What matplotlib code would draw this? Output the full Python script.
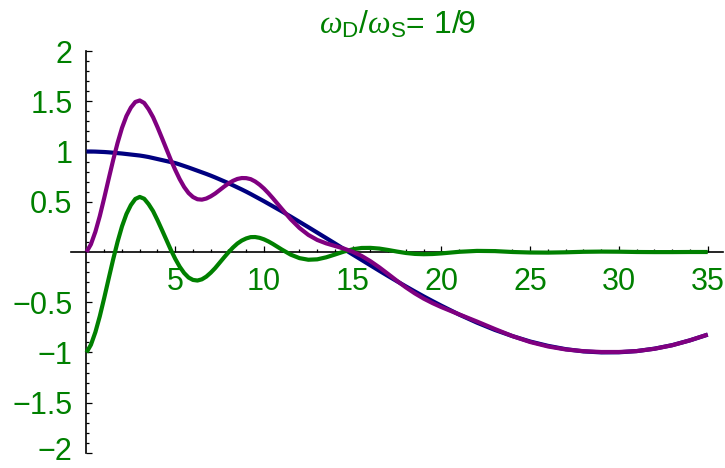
import matplotlib
matplotlib.use("Agg")
import matplotlib.pyplot as plt

plt.rcParams['font.family'] = ['Liberation Sans', 'DejaVu Sans']
plt.rcParams['mathtext.fontset'] = 'custom'
plt.rcParams['mathtext.rm'] = 'Liberation Sans'
plt.rcParams['mathtext.it'] = 'Liberation Serif:italic'

# werte (0..10.5 in viertel-schritten, dann halbe, dann ganze)
t = [0, 0.25, 0.5, 0.75, 1, 1.25, 1.5, 1.75, 2, 2.25, 2.5, 2.75, 3, 3.25, 3.5, 3.75,
     4, 4.25, 4.5, 4.75, 5, 5.25, 5.5, 5.75, 6, 6.25, 6.5, 6.75, 7, 7.25, 7.5, 7.75,
     8, 8.25, 8.5, 8.75, 9, 9.25, 9.5, 9.75, 10, 10.25, 10.5,
     11, 11.5, 12, 12.5, 13, 13.5, 14, 14.5, 15, 15.5, 16, 16.5, 17, 17.5,
     18, 18.5, 19, 19.5, 20, 21, 22, 23, 24, 25, 26, 27, 28, 29, 30, 31, 32, 33, 34, 35]

blau = [1.0, 1.0, 0.999, 0.997, 0.995, 0.992, 0.988, 0.984, 0.98, 0.975, 0.97, 0.965,
        0.96, 0.953, 0.945, 0.935, 0.925, 0.915, 0.905, 0.895, 0.885, 0.871, 0.856, 0.841,
        0.825, 0.809, 0.793, 0.777, 0.76, 0.742, 0.723, 0.704, 0.685, 0.664, 0.643, 0.622,
        0.60, 0.577, 0.553, 0.529, 0.505, 0.48, 0.455,
        0.405, 0.353, 0.30, 0.247, 0.193, 0.139, 0.085, 0.03, -0.025, -0.079, -0.133,
        -0.187, -0.24, -0.292, -0.343, -0.393, -0.442, -0.489, -0.535, -0.623, -0.703,
        -0.775, -0.837, -0.891, -0.934, -0.967, -0.989, -0.999, -0.998, -0.986, -0.962,
        -0.927, -0.879, -0.822]

gruen = [-1.0, -0.923, -0.798, -0.639, -0.456, -0.264, -0.075, 0.101, 0.255, 0.378,
         0.467, 0.528, 0.548, 0.53, 0.476, 0.407, 0.317, 0.220, 0.121, 0.022, -0.068,
         -0.146, -0.209, -0.254, -0.278, -0.284, -0.272, -0.245, -0.206, -0.160, -0.107,
         -0.054, -0.003, 0.044, 0.084, 0.114, 0.135, 0.148, 0.149, 0.141, 0.126, 0.105, 0.080,
         0.025, -0.026, -0.061, -0.077, -0.073, -0.053, -0.025, 0.004, 0.027, 0.040, 0.041,
         0.034, 0.020, 0.004, -0.010, -0.019, -0.022, -0.020, -0.014, 0.002, 0.011, 0.009,
         0.0, -0.005, -0.006, -0.003, 0.002, 0.004, 0.003, 0.0, -0.001, -0.001, 0.0, 0.0]

lila = [0.0, 0.077, 0.201, 0.358, 0.539, 0.728, 0.913, 1.085, 1.235, 1.353, 1.437, 1.493,
        1.508, 1.483, 1.421, 1.342, 1.242, 1.135, 1.026, 0.917, 0.817, 0.725, 0.647, 0.587,
        0.547, 0.525, 0.521, 0.532, 0.554, 0.582, 0.616, 0.650, 0.682, 0.708, 0.727, 0.736,
        0.735, 0.725, 0.702, 0.670, 0.631, 0.585, 0.535,
        0.430, 0.327, 0.239, 0.170, 0.120, 0.086, 0.060, 0.034, 0.002, -0.039, -0.092,
        -0.153, -0.220, -0.288, -0.353, -0.412, -0.464, -0.509, -0.549, -0.621, -0.692,
        -0.766, -0.837, -0.896, -0.940, -0.970, -0.987, -0.995, -0.995, -0.986, -0.963,
        -0.928, -0.879, -0.822]

x_major = [5, 10, 15, 20, 25, 30, 35]
x_labels = ['5', '10', '15', '20', '25', '30', '35']
y_major = [-2, -1.5, -1, -0.5, 0.5, 1, 1.5, 2]
y_labels = ['\u22122', '\u22121.5', '\u22121', '\u22120.5', '0.5', '1', '1.5', '2']

gruen_farbe = '#008000'

fig = plt.figure(figsize=(7.25, 4.68), dpi=100)
ax = fig.add_axes([71/725, 10/468, 652/725, 412/468])

lw = 3.0
ax.plot(t, blau, color='#000080', lw=lw, solid_capstyle='butt', solid_joinstyle='round', clip_on=False)
ax.plot(t, gruen, color=gruen_farbe, lw=lw, solid_capstyle='butt', solid_joinstyle='round', clip_on=False)
ax.plot(t, lila, color='#800080', lw=lw, solid_capstyle='butt', solid_joinstyle='round', clip_on=False)

ax.set_xlim(-0.873, 35.86)
ax.set_ylim(-2.05, 2.05)

for s in ['top', 'right']:
    ax.spines[s].set_visible(False)
ax.spines['left'].set_position(('data', 0))
ax.spines['bottom'].set_position(('data', 0))
ax.spines['left'].set_bounds(-2, 2)
ax.spines['left'].set_linewidth(1.2)
ax.spines['bottom'].set_linewidth(1.2)
ax.spines['left'].set_zorder(0.5)
ax.spines['bottom'].set_zorder(0.5)

ax.set_xticks(x_major)
ax.set_xticklabels(x_labels)
ax.set_xticks([i for i in range(1, 35) if i % 5 != 0], minor=True)
ax.set_yticks(y_major)
# unterstes label separat setzen, damit es nicht am rand abgeschnitten wird
ax.set_yticklabels([''] + y_labels[1:])
ax.set_yticks([k / 10 for k in range(-20, 21) if k % 5 != 0], minor=True)

ax.tick_params(which='both', direction='in', color='black', width=0.9,
               labelcolor=gruen_farbe, labelsize=22)
ax.tick_params(which='major', length=4)
ax.tick_params(which='minor', length=2.5)
ax.tick_params(axis='x', which='major', pad=11)
ax.tick_params(axis='y', which='major', pad=10)

ax.text(-0.78, y_major[0] - 0.065, y_labels[0], color=gruen_farbe, fontsize=22,
        ha='right', va='baseline', clip_on=False)

fig.text(397/725, 1 - 34/468, r'$\omega_{\mathrm{D}}/\omega_{\mathrm{S}}$= 1/9',
         color=gruen_farbe, fontsize=23, ha='center', va='baseline')

fig.savefig('out.png', dpi=100)
